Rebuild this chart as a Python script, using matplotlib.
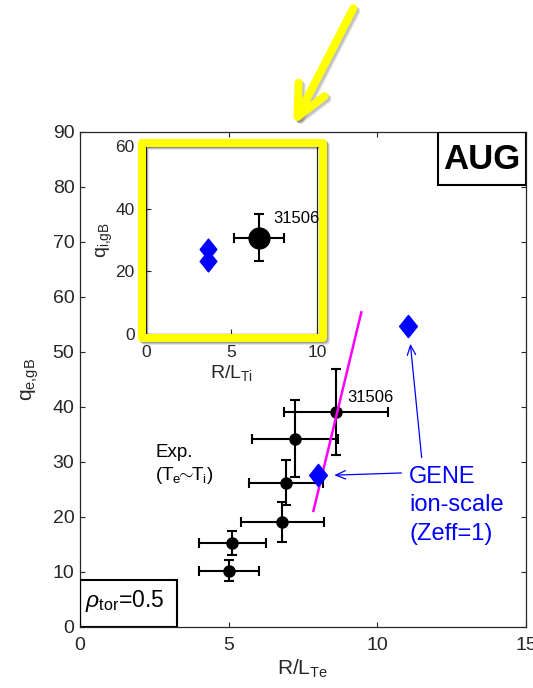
import matplotlib
matplotlib.use("Agg")
import matplotlib.pyplot as plt
import numpy as np
from matplotlib.path import Path
from matplotlib.patches import Rectangle, FancyArrowPatch

plt.rcParams['font.family'] = ['Liberation Sans', 'DejaVu Sans']
plt.rcParams['mathtext.fontset'] = 'custom'
plt.rcParams['mathtext.rm'] = 'Liberation Sans'
plt.rcParams['mathtext.it'] = 'Liberation Sans:italic'
plt.rcParams['mathtext.bf'] = 'Liberation Sans:bold'

# Experimental electron heat flux vs R/L_Te
exp_rlte = [8.61, 7.23, 6.93, 6.81, 5.12, 5.01]
exp_rlte_err = [1.75, 1.44, 1.24, 1.39, 1.12, 1.02]
exp_qe = [39.1, 34.2, 26.2, 19.1, 15.2, 10.2]
exp_qe_err = [7.8, 7.0, 4.1, 3.7, 2.2, 1.9]

# GENE ion-scale simulations
gene_rlte = [8.02, 11.03]
gene_qe = [27.6, 54.7]

# Stiffness line through the experimental point
stiff_rlte = [7.85, 9.46]
stiff_qe = [21.1, 57.2]

# Inset: ion heat flux vs R/L_Ti
exp_rlti = [6.6]
exp_rlti_err = [1.45]
exp_qi = [30.8]
exp_qi_err = [7.5]
gene_rlti = [3.61, 3.61]
gene_qi = [27.1, 23.4]

shot = "31506"

dark = '0.15'
diamond = Path([(0, 1), (0.8, 0), (0, -1), (-0.8, 0), (0, 1)],
               [Path.MOVETO, Path.LINETO, Path.LINETO, Path.LINETO, Path.CLOSEPOLY])

fig = plt.figure(figsize=(5.33, 6.88), dpi=100)
ax = fig.add_axes([0.1501, 0.0887, 0.8368, 0.7195])

ax.set_xlim(0, 15)
ax.set_ylim(0, 90)
ax.set_xticks([0, 5, 10, 15])
ax.set_yticks(np.arange(0, 91, 10))
ax.tick_params(direction='in', top=True, right=True, length=3.6, width=0.8,
               labelsize=14, colors=dark, labelcolor=dark)
ax.tick_params(axis='x', pad=7)
ax.tick_params(axis='y', pad=4)
for s in ax.spines.values():
    s.set_color(dark)
    s.set_linewidth(0.9)

ax.set_xlabel(r'R/L$_{\rm Te}$', fontsize=15, color=dark, labelpad=3)
ax.set_ylabel(r'q$_{\rm e{,}gB}$', fontsize=15, color=dark, labelpad=8)

ax.plot(stiff_rlte, stiff_qe, color='#ff00ff', lw=1.8, zorder=3)
ax.errorbar(exp_rlte, exp_qe, xerr=exp_rlte_err, yerr=exp_qe_err, fmt='o',
            color='black', ms=8, lw=1.5, capsize=3.6, capthick=1.5, zorder=2)
ax.plot(gene_rlte, gene_qe, linestyle='none', marker=diamond, ms=16,
        color='blue', mec='blue', zorder=4)

ax.text(8.98, 40.96, shot, fontsize=12, color='black')
ax.text(2.53, 30.9, 'Exp.', fontsize=13.5, color='black')
ax.text(2.53, 26.7, r'(T$_{\rm e}$$\!\!\sim\!\!$T$_{\rm i}$)', fontsize=13.5, color='black')

for txt, yb in zip(['GENE', 'ion-scale', '(Zeff=1)'], [26.1, 21.0, 15.8]):
    ax.text(11.07, yb, txt, fontsize=17, color='blue', va='baseline')

arrow_kw = dict(arrowstyle='->,head_length=0.7,head_width=0.3', color='blue',
                lw=0.9, shrinkA=0, shrinkB=0, mutation_scale=10)
ax.annotate('', xy=(8.55, 27.6), xytext=(10.81, 28.0), arrowprops=arrow_kw)
ax.annotate('', xy=(11.11, 51.5), xytext=(11.49, 30.8), arrowprops=arrow_kw)

# AUG label box
ax.add_patch(Rectangle((0.802, 0.893), 0.197, 0.106, transform=ax.transAxes,
                       fill=False, ec='black', lw=1.5, zorder=5))
ax.text(0.901, 0.945, 'AUG', transform=ax.transAxes, fontsize=25,
        fontweight='bold', ha='center', va='center', color='black')

# rho_tor label box
ax.add_patch(Rectangle((0.0, 0.0), 0.218, 0.095, transform=ax.transAxes,
                       fill=False, ec='black', lw=1.5, zorder=5))
ax.text(0.011, 0.041, r'$\rho_{\rm tor}$=0.5', transform=ax.transAxes,
        fontsize=16.5, color='black', va='baseline')

# Inset: ion channel
ins = fig.add_axes([0.2734, 0.5145, 0.3214, 0.2733])
ins.set_xlim(0, 10)
ins.set_ylim(0, 60)
ins.set_xticks([0, 5, 10])
ins.set_yticks([0, 20, 40, 60])
ins.tick_params(direction='in', length=3.6, width=0.8, labelsize=12.5,
                colors=dark, labelcolor=dark)
ins.tick_params(axis='x', pad=8)
ins.tick_params(axis='y', pad=8)
for s in ins.spines.values():
    s.set_color(dark)
    s.set_linewidth(0.9)
ins.set_xlabel(r'R/L$_{\rm Ti}$', fontsize=14, color=dark, labelpad=2)
ins.set_ylabel(r'q$_{\rm i{,}gB}$', fontsize=14, color=dark, labelpad=0)
ins.errorbar(exp_rlti, exp_qi, xerr=exp_rlti_err, yerr=exp_qi_err, fmt='o',
             color='black', ms=15, lw=1.5, capsize=3.6, capthick=1.5, zorder=2)
ins.plot(gene_rlti, gene_qi, linestyle='none', marker=diamond, ms=15,
         color='blue', mec='blue', zorder=3)
ins.text(7.42, 35.5, shot, fontsize=12, color='black')

# Yellow highlight frame with a soft shadow
fx0, fx1 = 142 / 533, 323 / 533
fy0, fy1 = 1 - 338 / 688, 1 - 142.5 / 688
for off, a in [(3, 0.10), (2, 0.15), (1, 0.2)]:
    fig.patches.append(Rectangle((fx0 + off / 533, fy0 - off / 688), fx1 - fx0, fy1 - fy0,
                                 transform=fig.transFigure, fill=False, ec='black',
                                 lw=5.8, alpha=a, joinstyle='round'))
fig.patches.append(Rectangle((fx0, fy0), fx1 - fx0, fy1 - fy0, transform=fig.transFigure,
                             fill=False, ec='#ffff00', lw=5.8, joinstyle='round'))

# Yellow pointer arrow
tail = (353.3 / 533, 1 - 8.3 / 688)
tip = (293.3 / 533, 1 - 125 / 688)
for off, a in [(3, 0.10), (2, 0.15)]:
    fig.patches.append(FancyArrowPatch((tail[0] + off / 533, tail[1] - off / 688),
                                       (tip[0] + off / 533, tip[1] - off / 688),
                                       transform=fig.transFigure,
                                       arrowstyle='->,head_length=2.2,head_width=1.05',
                                       mutation_scale=10, color='black', alpha=a, lw=5.8,
                                       shrinkA=0, shrinkB=0, capstyle='round',
                                       joinstyle='round'))
fig.patches.append(FancyArrowPatch(tail, tip, transform=fig.transFigure,
                                   arrowstyle='->,head_length=2.2,head_width=1.05',
                                   mutation_scale=10, color='#ffff00', lw=5.8,
                                   shrinkA=0, shrinkB=0, capstyle='round',
                                   joinstyle='round'))

fig.savefig('out.png', dpi=100)
